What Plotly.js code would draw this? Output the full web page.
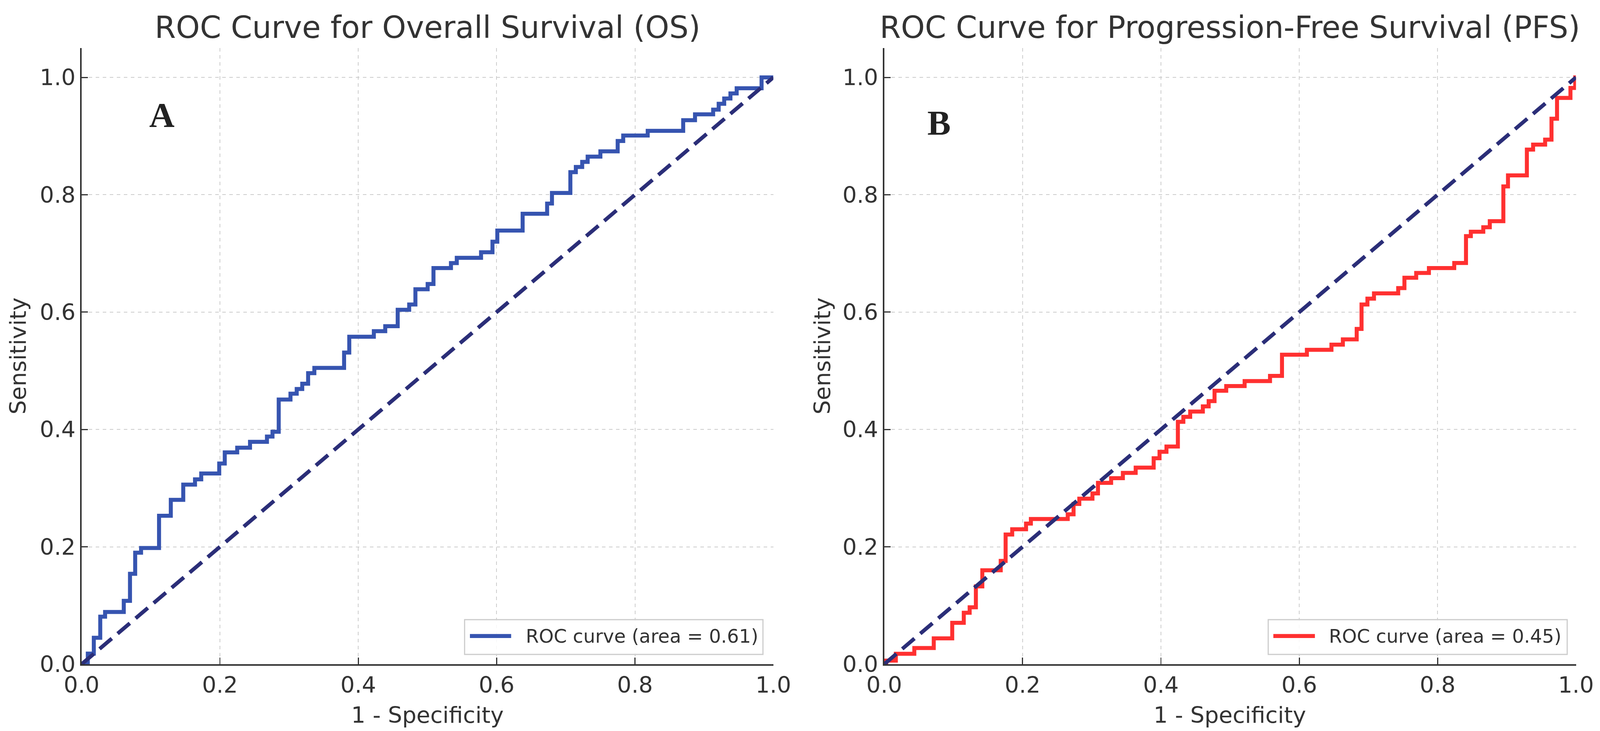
<!DOCTYPE html>
<html>
<head>
<meta charset="utf-8">
<script src="https://cdn.plot.ly/plotly-3.0.1.min.js"></script>
<style>html,body{margin:0;padding:0;background:#fff;overflow:hidden;}#chart{position:absolute;left:0;top:0;}</style>
</head>
<body>
<div id="chart"></div>
<script>
// ---- Data ----
// Panel A: Overall Survival ROC curve corner points (1 - specificity, sensitivity)
const fprOS = [0.0, 0.009, 0.0177, 0.027, 0.034, 0.061, 0.070, 0.0775, 0.086, 0.112, 0.129, 0.147, 0.164, 0.173, 0.199, 0.207, 0.225, 0.2435, 0.268, 0.276, 0.285, 0.302, 0.311, 0.319, 0.3275, 0.3365, 0.3795, 0.387, 0.4225, 0.439, 0.457, 0.4736, 0.4826, 0.5003, 0.5087, 0.534, 0.5424, 0.5775, 0.594, 0.601, 0.6376, 0.673, 0.680, 0.7066, 0.7145, 0.7237, 0.7316, 0.75, 0.775, 0.783, 0.8184, 0.8697, 0.8868, 0.913, 0.921, 0.929, 0.938, 0.947, 0.983, 1.0];
const tprOS = [0.0, 0.018, 0.045, 0.081, 0.089, 0.108, 0.154, 0.190, 0.198, 0.253, 0.280, 0.306, 0.315, 0.325, 0.342, 0.361, 0.369, 0.379, 0.388, 0.396, 0.451, 0.461, 0.469, 0.478, 0.496, 0.505, 0.531, 0.558, 0.5675, 0.576, 0.604, 0.613, 0.639, 0.648, 0.675, 0.6836, 0.6925, 0.702, 0.720, 0.739, 0.7676, 0.785, 0.803, 0.8385, 0.8473, 0.856, 0.865, 0.874, 0.8916, 0.901, 0.909, 0.927, 0.937, 0.945, 0.955, 0.964, 0.9727, 0.9815, 1.0, 1.0];
// Panel B: Progression-Free Survival ROC curve corner points
const fprPFS = [0.0, 0.003, 0.0168, 0.0435, 0.0716, 0.0983, 0.115, 0.1235, 0.1325, 0.1418, 0.1684, 0.1755, 0.185, 0.205, 0.212, 0.2653, 0.2737, 0.282, 0.301, 0.309, 0.328, 0.345, 0.3635, 0.3895, 0.398, 0.408, 0.4245, 0.4324, 0.4423, 0.4606, 0.469, 0.4775, 0.4944, 0.521, 0.5577, 0.575, 0.611, 0.6465, 0.663, 0.683, 0.690, 0.6985, 0.708, 0.743, 0.752, 0.769, 0.7874, 0.824, 0.841, 0.848, 0.866, 0.8754, 0.895, 0.9017, 0.929, 0.938, 0.9554, 0.9646, 0.9726, 0.992, 0.9989, 1.0];
const tprPFS = [0.0, 0.006, 0.0177, 0.0275, 0.044, 0.0705, 0.0877, 0.097, 0.1326, 0.160, 0.176, 0.221, 0.230, 0.2396, 0.2475, 0.2555, 0.273, 0.282, 0.291, 0.309, 0.317, 0.326, 0.335, 0.351, 0.362, 0.371, 0.413, 0.4216, 0.4305, 0.4394, 0.4483, 0.466, 0.474, 0.4824, 0.4913, 0.5274, 0.5357, 0.5446, 0.5535, 0.5713, 0.613, 0.623, 0.632, 0.641, 0.6585, 0.6668, 0.675, 0.6837, 0.7295, 0.737, 0.7447, 0.755, 0.8142, 0.833, 0.877, 0.8854, 0.894, 0.9295, 0.965, 0.982, 1.0, 1.0];
// Chance diagonal
const chanceX = [0, 1];
const chanceY = [0, 1];
// Labels
const panelTitles = ["ROC Curve for Overall Survival (OS)", "ROC Curve for Progression-Free Survival (PFS)"];
const panelLetters = ["A", "B"];
const aucLabels = ["ROC curve (area = 0.61)", "ROC curve (area = 0.45)"];
const xLabel = "1 - Specificity";
const yLabel = "Sensitivity";
const tickVals = [0, 0.2, 0.4, 0.6, 0.8, 1.0];

// ---- Size: fit the real viewport (designed for 4198 x 1871) ----
const W = (window.innerWidth && window.innerWidth > 100) ? window.innerWidth : 4198;
const H = (window.innerHeight && window.innerHeight > 100) ? window.innerHeight : 1871;
const S = Math.min(W / 4198, H / 1871);
const px = v => v * S;
const chartDiv = document.getElementById("chart");
chartDiv.style.width = W + "px";
chartDiv.style.height = H + "px";

// ---- Styles ----
const FONT = "DejaVu Sans, sans-serif";
const TXT = "#333333";
const BLUE = "#3654b0";
const RED = "#ff3030";
const NAVY = "#2b2e78";
const DASH = px(42).toFixed(1) + "px," + px(20).toFixed(1) + "px";

const traces = [
  {x: fprOS, y: tprOS, xaxis: "x", yaxis: "y", mode: "lines", line: {color: BLUE, width: px(10.5), shape: "hv"}, showlegend: false, hoverinfo: "skip"},
  {x: chanceX, y: chanceY, xaxis: "x", yaxis: "y", mode: "lines", line: {color: NAVY, width: px(10), dash: DASH}, showlegend: false, hoverinfo: "skip"},
  {x: fprPFS, y: tprPFS, xaxis: "x2", yaxis: "y2", mode: "lines", line: {color: RED, width: px(10.5), shape: "hv"}, showlegend: false, hoverinfo: "skip"},
  {x: chanceX, y: chanceY, xaxis: "x2", yaxis: "y2", mode: "lines", line: {color: NAVY, width: px(10), dash: DASH}, showlegend: false, hoverinfo: "skip"}
];

function axisCommon() {
  return {tickvals: tickVals, tickformat: ".1f",
    showgrid: true, gridcolor: "#cccccc", gridwidth: px(2), griddash: "dash",
    showline: true, linecolor: TXT, linewidth: px(4), mirror: false, zeroline: false,
    ticks: "inside", ticklen: px(17), tickwidth: px(3), tickcolor: TXT,
    tickfont: {family: FONT, size: px(59), color: TXT}, fixedrange: true};
}
function xa(domain, anchor) {
  return Object.assign(axisCommon(), {domain: domain, anchor: anchor, range: [0, 1]});
}
function ya(anchor) {
  return Object.assign(axisCommon(), {domain: [0.0914, 0.93426], anchor: anchor, range: [0, 1.05]});
}

const panels = [
  {xr: "x", yr: "y", cx: 0.26715, ylab: 0.01143, color: BLUE, lx: 0.116, ly: 0.8916},
  {xr: "x2", yr: "y2", cx: 0.76870, ylab: 0.5141, color: RED, lx: 0.079, ly: 0.8795}
];
const legendBox = [[0.5537, 0.985], [0.5551, 0.9873]];
const legendLine = [[0.5614, 0.621], [0.5625, 0.6226]];
const legendText = [0.6408, 0.6419];

const annotations = [];
const shapes = [];
panels.forEach((p, i) => {
  annotations.push({text: panelTitles[i], xref: "paper", yref: "paper", x: p.cx, y: 0.9626, xanchor: "center", yanchor: "middle", showarrow: false, font: {family: FONT, size: px(80), color: TXT}});
  annotations.push({text: xLabel, xref: "paper", yref: "paper", x: p.cx, y: 0.0219, xanchor: "center", yanchor: "middle", showarrow: false, font: {family: FONT, size: px(59), color: TXT}});
  annotations.push({text: yLabel, xref: "paper", yref: "paper", x: p.ylab, y: 0.5131, xanchor: "center", yanchor: "middle", textangle: -90, showarrow: false, font: {family: FONT, size: px(59), color: TXT}});
  annotations.push({text: "<b>" + panelLetters[i] + "</b>", xref: p.xr + " domain", yref: p.yr + " domain", x: p.lx, y: p.ly, xanchor: "center", yanchor: "middle", showarrow: false, font: {family: "Liberation Serif, Times New Roman, serif", size: px(92), color: "#222222"}});
  // legend box, sample line and label
  shapes.push({type: "rect", xref: p.xr + " domain", yref: p.yr + " domain", x0: legendBox[i][0], x1: legendBox[i][1], y0: 0.0159, y1: 0.0723, line: {color: "#cccccc", width: px(3)}, fillcolor: "rgba(255,255,255,0.85)", layer: "above"});
  shapes.push({type: "line", xref: p.xr + " domain", yref: p.yr + " domain", x0: legendLine[i][0], x1: legendLine[i][1], y0: 0.0457, y1: 0.0457, line: {color: p.color, width: px(10.5)}, layer: "above"});
  annotations.push({text: aucLabels[i], xref: p.xr + " domain", yref: p.yr + " domain", x: legendText[i], y: 0.0457, xanchor: "left", yanchor: "middle", showarrow: false, font: {family: FONT, size: px(49.5), color: TXT}});
});

const layout = {
  width: W, height: H,
  margin: {l: 0, r: 0, t: 0, b: 0},
  paper_bgcolor: "#ffffff", plot_bgcolor: "#ffffff",
  showlegend: false,
  xaxis: xa([0.05098, 0.48333], "y"),
  yaxis: ya("x"),
  xaxis2: xa([0.55264, 0.98499], "y2"),
  yaxis2: ya("x2"),
  annotations: annotations,
  shapes: shapes
};

Plotly.newPlot("chart", traces, layout, {displayModeBar: false, staticPlot: true});
</script>
</body>
</html>
